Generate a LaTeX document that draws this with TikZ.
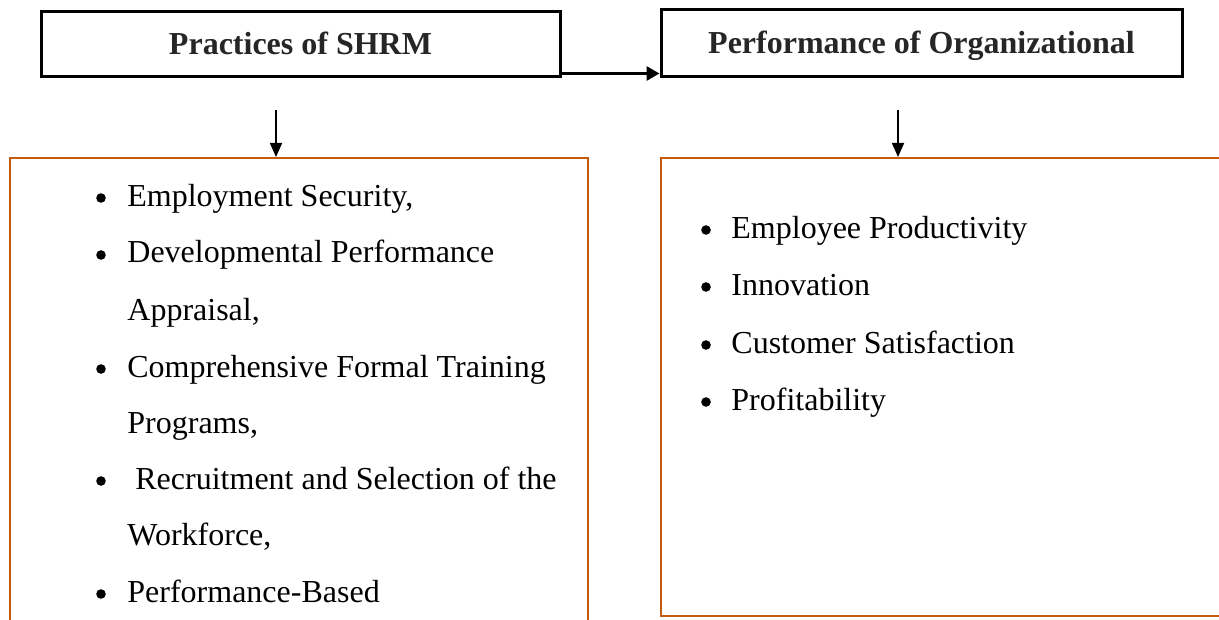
\documentclass[tikz,border=0pt]{standalone}
\usepackage{fontspec}
\setmainfont{Liberation Serif}
\usetikzlibrary{arrows.meta}
\definecolor{boxorange}{RGB}{197,90,17}
\begin{document}
\begin{tikzpicture}[x=0.5pt,y=-0.5pt,
  titlebox/.style={draw=black,line width=1.5pt,minimum width=259.5pt,minimum height=32.5pt,inner sep=0pt,text height=12.5pt,text depth=2pt,font=\fontsize{16}{18}\selectfont\bfseries,text=black!85},
  listtext/.style={anchor=base west,inner sep=0pt,font=\fontsize{16}{18}\selectfont},
  bul/.style={circle,fill=black,inner sep=0pt,minimum size=4.8pt},
  obox/.style={draw=boxorange,line width=1.3pt},
  arr/.style={line width=0.8pt,-{Triangle[length=7pt,width=6pt]}},
  harr/.style={line width=1.5pt,-{Triangle[length=6.5pt,width=7pt]}}]
\useasboundingbox (0,0) rectangle (1219,620);
% title boxes
\node[titlebox] (sl) at (300.5,44.5) {Practices of SHRM};
\node[titlebox,minimum width=260.5pt,minimum height=33.5pt] (pr) at (921.5,43.5) {Performance of Organizational};
% horizontal arrow
\coordinate (h1) at (560,73.5);
\draw[harr] (h1) -- (h1 -| pr.west);
% list boxes (outlines)
\coordinate (lbnw) at (10,158);
\coordinate (lbne) at (588,158);
\coordinate (lbsw) at (10,625);
\coordinate (lbse) at (588,625);
\draw[obox] (lbsw) -- (lbnw) -- (lbne) -- (lbse);
\coordinate (rbnw) at (661,158);
\coordinate (rbne) at (1230,158);
\coordinate (rbsw) at (661,616);
\coordinate (rbse) at (1230,616);
\draw[obox] (rbne) -- (rbnw) -- (rbsw) -- (rbse);
% down arrows
\coordinate (d1) at (276,110);
\coordinate (d1e) at (276,157);
\draw[arr] (d1) -- (d1e);
\coordinate (d2) at (898,110);
\coordinate (d2e) at (898,157);
\draw[arr] (d2) -- (d2e);
% left list
\foreach \n/\yy/\bq/\txt in {l1/206/1/{Employment Security,},
  l2/263/1/{Developmental Performance},
  l3/320/0/{Appraisal,},
  l4/377/1/{Comprehensive Formal Training},
  l5/433/0/{Programs,},
  l6/489/1/{\ Recruitment and Selection of the},
  l7/545/0/{Workforce,},
  l8/602/1/{Performance-Based}}{
  \node[listtext] (\n) at (127,\yy) {\txt};
  \ifnum\bq=1 \node[bul] (\n b) at (101,\yy-8) {};\fi
}
% right list
\foreach \n/\yy/\txt in {r1/238/{Employee Productivity},
  r2/295/{Innovation},
  r3/353/{Customer Satisfaction},
  r4/410/{Profitability}}{
  \node[listtext] (\n) at (731,\yy) {\txt};
  \node[bul] (\n b) at (706,\yy-8) {};
}
\end{tikzpicture}
\end{document}
